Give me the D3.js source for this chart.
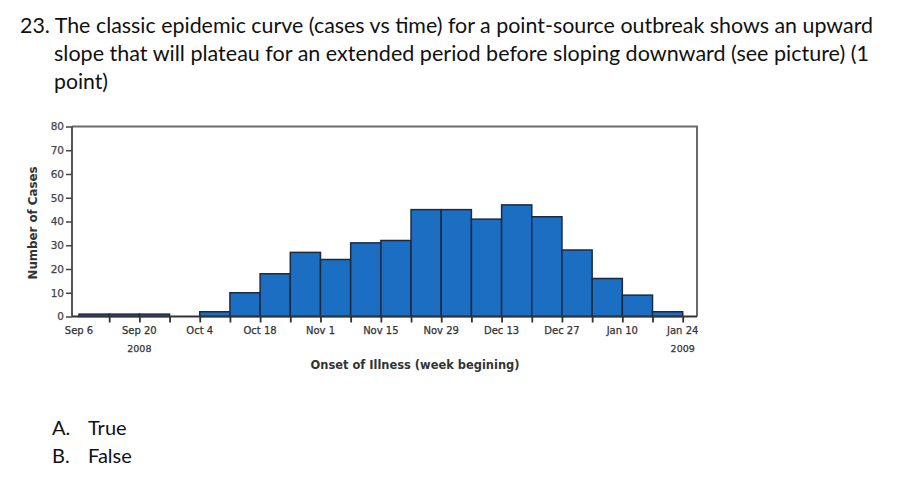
<!DOCTYPE html>
<html>
<head>
<meta charset="utf-8">
<script src="https://cdn.jsdelivr.net/npm/d3@7/dist/d3.min.js"></script>
<style>
  html, body { margin: 0; padding: 0; background: #fff; }
  svg { display: block; }
</style>
</head>
<body>
<svg id="chart" width="898" height="490"></svg>
<script>
// ---- data ----
const weekStarts = ["2008-09-06","2008-09-13","2008-09-20","2008-09-27","2008-10-04","2008-10-11",
  "2008-10-18","2008-10-25","2008-11-01","2008-11-08","2008-11-15","2008-11-22","2008-11-29",
  "2008-12-06","2008-12-13","2008-12-20","2008-12-27","2009-01-03","2009-01-10","2009-01-17"];
const cases = [1,1,1,0,2,10,18,27,24,31,32,45,45,41,47,42,28,16,9,2];
const xTickLabelDates = ["2008-09-06","2008-09-20","2008-10-04","2008-10-18","2008-11-01","2008-11-15",
  "2008-11-29","2008-12-13","2008-12-27","2009-01-10","2009-01-24"];
const xTickLabels = ["Sep 6","Sep 20","Oct 4","Oct 18","Nov 1","Nov 15","Nov 29","Dec 13","Dec 27","Jan 10","Jan 24"];
const yearLabels = [{date:"2008-09-20", text:"2008"}, {date:"2009-01-24", text:"2009"}];
const yTicks = [0,10,20,30,40,50,60,70,80];
const questionLines = [
  "23. The classic epidemic curve (cases vs time) for a point-source outbreak shows an upward",
  "slope that will plateau for an extended period before sloping downward (see picture) (1",
  "point)"
];
const answers = [["A.","True"],["B.","False"]];
const xTitle = "Onset of Illness (week begining)";
const yTitle = "Number of Cases";

// ---- layout ----
const parse = d3.utcParse("%Y-%m-%d");
const svg = d3.select("#chart");
const x0 = 72, x1 = 697, yTop = 126.5, yBase = 316.5;

const x = d3.scaleUtc()
  .domain([parse("2008-09-06"), parse("2009-01-24")])
  .range([79, 682.7]);
const y = d3.scaleLinear().domain([0, 80]).range([yBase, yTop]);

const qFont = "Lato, 'Open Sans', sans-serif";
const cFont = "'DejaVu Sans', Lato, sans-serif";

// question text
const qPos = [{x:20, y:33, w:853}, {x:54, y:61, w:815}, {x:54, y:89, w:54}];
svg.selectAll("text.q").data(questionLines).join("text")
  .attr("class","q")
  .attr("x",(d,i)=>qPos[i].x).attr("y",(d,i)=>qPos[i].y)
  .attr("textLength",(d,i)=>qPos[i].w)
  .attr("lengthAdjust","spacingAndGlyphs")
  .attr("font-family", qFont).attr("font-size", 22).attr("fill","#111")
  .text(d=>d);

// answers
answers.forEach((a,i)=>{
  svg.append("text").attr("x",52).attr("y",435 + i*28)
    .attr("font-family", qFont).attr("font-size", 20).attr("fill","#111").text(a[0]);
  svg.append("text").attr("x",88).attr("y",435 + i*28)
    .attr("font-family", qFont).attr("font-size", 20).attr("fill","#111").text(a[1]);
});

// frame (top & right)
svg.append("path")
  .attr("d", `M${x0},${yTop}H${x1}V${yBase}`)
  .attr("fill","none").attr("stroke","#6a6a6a").attr("stroke-width",2);

// bars
const weekMs = 7*24*3600*1000;
svg.append("g").selectAll("rect").data(weekStarts.map((d,i)=>({d:parse(d), v:cases[i]})).filter(e=>e.v>0))
  .join("rect")
  .attr("x", e=>x(e.d))
  .attr("width", e=>x(new Date(+e.d + weekMs)) - x(e.d))
  .attr("y", e=>y(e.v))
  .attr("height", e=>yBase - y(e.v))
  .attr("fill","#1b6ec2")
  .attr("stroke","#1a2b40").attr("stroke-width",1.5);

// y axis
const yAxis = d3.axisLeft(y).tickValues(yTicks).tickSize(6).tickPadding(2);
const gy = svg.append("g").attr("transform",`translate(${x0},0)`).call(yAxis);
gy.select(".domain").attr("stroke","#444").attr("stroke-width",1.8).attr("d",`M0,${yTop}V${yBase}`);
gy.selectAll(".tick line").attr("stroke","#444").attr("stroke-width",1.5);
gy.selectAll(".tick text").attr("font-family",cFont).attr("font-size",10.5).attr("fill","#444")
  .attr("stroke","#444").attr("stroke-width",0.25);

// x axis: ticks every week, labels every two weeks
const weekTicks = d3.utcSaturday.range(parse("2008-09-13"), parse("2009-01-25"));
const xAxis = d3.axisBottom(x).tickValues(weekTicks).tickSize(6).tickFormat("");
const gx = svg.append("g").attr("transform",`translate(0,${yBase})`).call(xAxis);
gx.select(".domain").attr("stroke","#333").attr("stroke-width",2).attr("d",`M${x0},0H${x1}`);
gx.selectAll(".tick line").attr("stroke","#333").attr("stroke-width",1.8);

svg.append("g").selectAll("text").data(xTickLabelDates.map((d,i)=>({d:parse(d), t:xTickLabels[i]})))
  .join("text")
  .attr("x", e=>x(e.d)).attr("y", 334)
  .attr("text-anchor","middle")
  .attr("font-family",cFont).attr("font-size",10).attr("fill","#333")
  .attr("stroke","#333").attr("stroke-width",0.25)
  .text(e=>e.t);

svg.append("g").selectAll("text").data(yearLabels).join("text")
  .attr("x", e=>x(parse(e.date))).attr("y", 352)
  .attr("text-anchor","middle")
  .attr("font-family",cFont).attr("font-size",9.5).attr("fill","#333")
  .attr("stroke","#333").attr("stroke-width",0.25)
  .text(e=>e.text);

// axis titles
svg.append("text").attr("x",415).attr("y",369).attr("text-anchor","middle")
  .attr("font-family",cFont).attr("font-size",11.5).attr("font-weight","bold").attr("fill","#333")
  .attr("textLength",209).attr("lengthAdjust","spacingAndGlyphs")
  .text(xTitle);
svg.append("text").attr("transform","translate(37,223) rotate(-90)").attr("text-anchor","middle")
  .attr("font-family",cFont).attr("font-size",12).attr("font-weight","bold").attr("fill","#333")
  .attr("textLength",113).attr("lengthAdjust","spacingAndGlyphs")
  .text(yTitle);
</script>
</body>
</html>
